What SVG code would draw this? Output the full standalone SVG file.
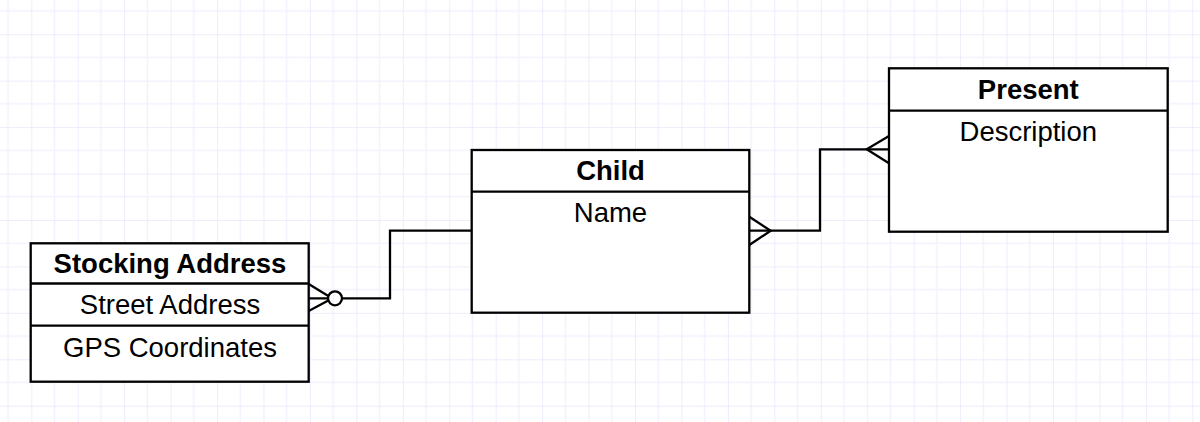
<svg xmlns="http://www.w3.org/2000/svg" width="1200" height="422" viewBox="0 0 1200 422">
<defs>
<pattern id="grid" patternUnits="userSpaceOnUse" x="31.3" y="34.2" width="46.44" height="46.44">
<path d="M23.22 0V46.44M0 23.22H46.44" stroke="#f3f1fe" stroke-width="1.5" fill="none"/>
<path d="M0 0V46.44M0 0H46.44" stroke="#e9e6fc" stroke-width="1.5" fill="none"/>
</pattern>
<style>
.box{fill:#fff;stroke:#000;stroke-width:2.3}
.div{stroke:#000;stroke-width:2.3;fill:none}
.title{font-family:"Liberation Sans",Arial,sans-serif;font-weight:bold;font-size:27.5px;text-anchor:middle;fill:#000}
.attr{font-family:"Liberation Sans",Arial,sans-serif;font-size:27.5px;text-anchor:middle;fill:#000}
.conn{stroke:#000;stroke-width:2.3;fill:none}
</style>
</defs>
<rect width="1200" height="422" fill="#fff"/>
<rect width="1200" height="422" fill="url(#grid)"/>

<g id="connectors">
<path class="conn" d="M342 298.3H390V230.7H471.7"/>
<path class="conn" d="M308.7 284L328.3 296M308.7 311L328.3 300.5M308.7 298.3H328"/>
<circle class="conn" cx="335" cy="298.3" r="7" fill="#fff"/>
<path class="conn" d="M749.3 230.7H820V149.3H889"/>
<path class="conn" d="M749.3 216.7L770.7 230.7L749.3 245"/>
<path class="conn" d="M889 136L866.7 149.3L889 163.3"/>
</g>

<g id="stocking-address">
<rect class="box" x="30.7" y="243.3" width="278" height="138.4"/>
<path class="div" d="M30.7 283.5H308.7M30.7 325.7H308.7"/>
<text class="title" x="170" y="272.5">Stocking Address</text>
<text class="attr" x="170" y="314">Street Address</text>
<text class="attr" x="170" y="356.5">GPS Coordinates</text>
</g>

<g id="child">
<rect class="box" x="471.7" y="150" width="277.6" height="162.7"/>
<path class="div" d="M471.7 191.7H749.3"/>
<text class="title" x="610.5" y="179.5">Child</text>
<text class="attr" x="610.5" y="222">Name</text>
</g>

<g id="present">
<rect class="box" x="889" y="68.3" width="278.7" height="163.4"/>
<path class="div" d="M889 110.7H1167.7"/>
<text class="title" x="1028.3" y="98.5">Present</text>
<text class="attr" x="1028.3" y="141">Description</text>
</g>
</svg>
